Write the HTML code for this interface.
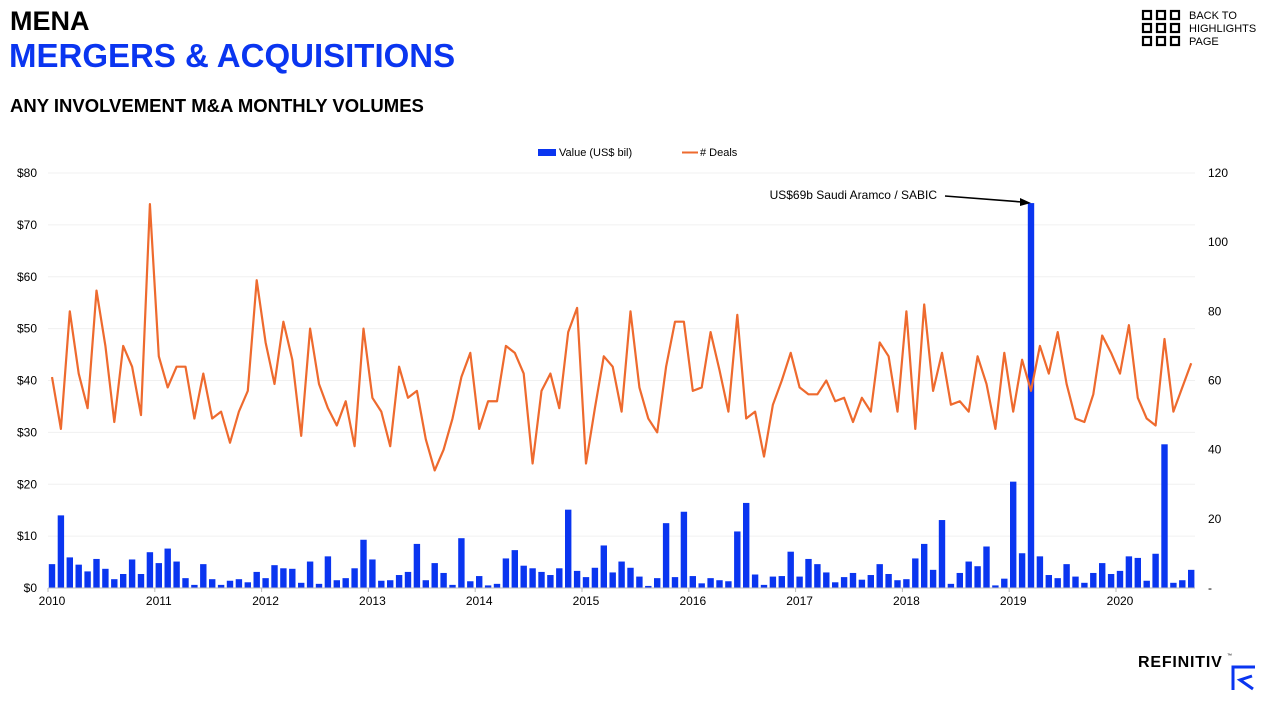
<!DOCTYPE html>
<html><head><meta charset="utf-8"><style>
body{margin:0;background:#fff;}
svg text{font-family:"Liberation Sans",Arial,sans-serif;}
</style></head><body>
<svg id="chart" width="1270" height="704" xmlns="http://www.w3.org/2000/svg">
<text x="10" y="30" font-size="27" font-weight="bold" fill="#000">MENA</text>
<text x="9" y="67" font-size="33" font-weight="bold" fill="#0a35f0">MERGERS &amp; ACQUISITIONS</text>
<text x="10" y="112" font-size="18.5" font-weight="bold" fill="#000">ANY INVOLVEMENT M&amp;A MONTHLY VOLUMES</text>
<g>
<g fill="none" stroke="#000" stroke-width="2.2">
<rect x="1143" y="11" width="8" height="8"/><rect x="1157" y="11" width="8" height="8"/><rect x="1171" y="11" width="8" height="8"/>
<rect x="1143" y="24" width="8" height="8"/><rect x="1157" y="24" width="8" height="8"/><rect x="1171" y="24" width="8" height="8"/>
<rect x="1143" y="37" width="8" height="8"/><rect x="1157" y="37" width="8" height="8"/><rect x="1171" y="37" width="8" height="8"/>
</g>
<text x="1189" y="19" font-size="11" fill="#000">BACK TO</text>
<text x="1189" y="32" font-size="11" fill="#000">HIGHLIGHTS</text>
<text x="1189" y="45" font-size="11" fill="#000">PAGE</text>
</g>
<g>
<rect x="538" y="149" width="18" height="7" fill="#0a35f0"/>
<text x="559" y="156" font-size="11" fill="#000">Value (US$ bil)</text>
<line x1="682" y1="152.5" x2="698" y2="152.5" stroke="#ee6a2e" stroke-width="2"/>
<text x="700" y="156" font-size="11" fill="#000"># Deals</text>
</g>
<g id="grid"></g><g id="bars"></g><g id="line"></g><g id="axes"></g>
<text x="937" y="199" font-size="12" text-anchor="end" fill="#000">US$69b Saudi Aramco / SABIC</text>
<line x1="945" y1="196" x2="1022" y2="202" stroke="#000" stroke-width="1.6"/>
<polygon points="1031,203 1020,198 1020,206" fill="#000"/>
<g>
<text x="1138" y="667" font-size="16" font-weight="bold" letter-spacing="0.8" fill="#000">REFINITIV</text>
<text x="1227" y="657" font-size="5" fill="#000">™</text>
<path d="M1233 690 V667 H1255 M1252 676 L1240 680 L1253 689" fill="none" stroke="#0a35f0" stroke-width="3"/>
</g>
</svg>
<script>
const years=["2010","2011","2012","2013","2014","2015","2016","2017","2018","2019","2020"];
const leftTicks=["$0","$10","$20","$30","$40","$50","$60","$70","$80"];
const rightTicks=["-","20","40","60","80","100","120"];
const values=[4.6,14,5.9,4.5,3.2,5.6,3.7,1.7,2.7,5.5,2.7,6.9,4.8,7.6,5.1,1.9,0.6,4.6,1.7,0.6,1.4,1.7,1.1,3.1,1.9,4.4,3.8,3.7,1,5.1,0.8,6.1,1.5,1.9,3.8,9.3,5.5,1.4,1.5,2.5,3.1,8.5,1.5,4.8,2.9,0.6,9.6,1.3,2.3,0.5,0.8,5.7,7.3,4.3,3.8,3.1,2.5,3.8,15.1,3.3,2.1,3.9,8.2,3,5.1,3.9,2.2,0.4,1.9,12.5,2.1,14.7,2.3,0.9,1.9,1.5,1.3,10.9,16.4,2.6,0.6,2.2,2.3,7,2.2,5.6,4.6,3,1.1,2.1,2.9,1.6,2.5,4.6,2.7,1.5,1.7,5.7,8.5,3.5,13.1,0.8,2.9,5.1,4.2,8,0.5,1.8,20.5,6.7,74.2,6.1,2.5,1.9,4.6,2.2,1,2.9,4.8,2.7,3.3,6.1,5.8,1.4,6.6,27.7,1,1.5,3.5];
const deals=[61,46,80,62,52,86,70,48,70,64,50,111,67,58,64,64,49,62,49,51,42,51,57,89,71,59,77,66,44,75,59,52,47,54,41,75,55,51,41,64,55,57,43,34,40,49,61,68,46,54,54,70,68,62,36,57,62,52,74,81,36,52,67,64,51,80,58,49,45,64,77,77,57,58,74,63,51,79,49,51,38,53,60,68,58,56,56,60,54,55,48,55,51,71,67,51,80,46,82,57,68,53,54,51,67,59,46,68,51,66,57,70,62,74,59,49,48,56,73,68,62,76,55,49,47,72,51,58,65];
const NS="http://www.w3.org/2000/svg";
const x0=52, monthW=8.9, yBase=588, yTop=173;
const xs=i=>x0+i*monthW;
const yL=v=>yBase-(v/80)*(yBase-yTop);
const yR=v=>yBase-(v/120)*(yBase-yTop);
function mk(t,a,p){const e=document.createElementNS(NS,t);for(const k in a)e.setAttribute(k,a[k]);p.appendChild(e);return e;}
const grid=document.getElementById('grid'),bars=document.getElementById('bars'),line=document.getElementById('line'),axes=document.getElementById('axes');
leftTicks.forEach((t,i)=>{const y=yL(i*10);
 if(i>0){const g=mk('line',{x1:48,x2:1195,y1:y,y2:y,stroke:'#f0f0f0','stroke-width':1},grid);
 
 }
 const tx=mk('text',{x:37,y:y+4,'font-size':12,'text-anchor':'end',fill:'#000'},axes);tx.textContent=t;
 
 });
rightTicks.forEach((t,i)=>{const y=yR(i*20);
 const tx=mk('text',{x:1208,y:y+4,'font-size':12,fill:'#000'},axes);tx.textContent=t;
 
 });
values.forEach((v,i)=>{const r=mk('rect',{x:xs(i)-3.2,y:yL(v),width:6.4,height:yBase-yL(v),fill:'#0a35f0'},bars);
 
 });
const pl=mk('polyline',{points:deals.map((d,i)=>xs(i)+','+yR(d)).join(' '),fill:'none',stroke:'#ee6a2e','stroke-width':2.2,'stroke-linejoin':'round'},line);


const ax=mk('line',{x1:48,x2:1195,y1:yBase,y2:yBase,stroke:'#bbb','stroke-width':1},axes);


years.forEach((yr,i)=>{const x=xs(i*12);
 mk('line',{x1:x-4,x2:x-4,y1:yBase,y2:yBase+4,stroke:'#bbb'},axes);
 const tx=mk('text',{x:x,y:605,'font-size':12,'text-anchor':'middle',fill:'#000'},axes);tx.textContent=yr;
 
 });
</script>
</body></html>
